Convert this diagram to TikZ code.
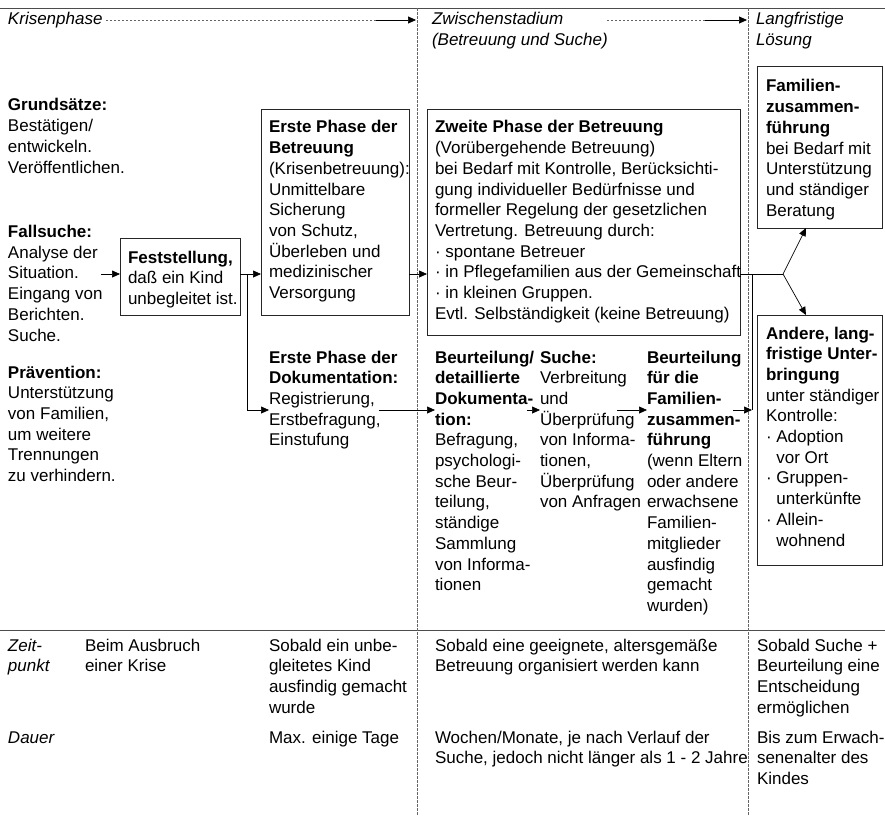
\documentclass[tikz,border=0pt]{standalone}
\usepackage{fontspec}
\setmainfont{Liberation Sans}
\usetikzlibrary{arrows.meta,calc}
\newcommand\fsz{\fontsize{17pt}{20.7pt}\selectfont}
\newcommand\bdot{\textperiodcentered\ }
\newcommand\ind{\phantom{\textperiodcentered\ }}
\begin{document}
\begin{tikzpicture}[x=1pt,y=-1pt,
  txt/.style={anchor=north west, inner sep=0pt, outer sep=0pt, align=left, font=\fsz},
  boxst/.style={draw=black!85, line width=0.8pt, anchor=north west, inner sep=0pt, outer sep=0pt},
  arr/.style={draw=black, line width=0.7pt, -{Triangle[length=8pt,width=7pt]}},
  ln/.style={draw=black, line width=0.7pt},
  sepline/.style={draw=black!60, line width=0.7pt, dash pattern=on 2.5pt off 1.5pt},
  hdash/.style={draw=black!60, line width=0.7pt, dash pattern=on 2pt off 2pt},
  rulest/.style={draw=black!70, line width=0.8pt}]
\useasboundingbox (0,0) rectangle (885,815);
\fill[white] (0,0) rectangle (885,815);

% rules and separators
\draw[rulest] (0,8) -- (885,8);
\draw[rulest] (0,630) -- (885,630);
\draw[sepline] (417,8) -- (417,815);
\draw[sepline] (748,8) -- (748,815);

% headers
\node[txt] (kris) at (8,10.5) {\strut\itshape Krisenphase};
\node[txt] (zw) at (432,10.5) {\strut\itshape Zwischenstadium\\\itshape (Betreuung und Suche)};
\node[txt] (lang) at (756,10.5) {\strut\itshape Langfristige\\\itshape Lösung};
\coordinate (h1s) at (106,20);
\coordinate (h1m) at (376,20);
\coordinate (h1e) at (416,20);
\coordinate (h2s) at (607,20);
\coordinate (h2m) at (705,20);
\coordinate (h2e) at (747,20);
\draw[hdash] (h1s) -- (h1m);
\draw[arr] (h1m) -- (h1e);
\draw[hdash] (h2s) -- (h2m);
\draw[arr] (h2m) -- (h2e);

% left column
\node[txt] (grund) at (8,96.5) {\strut\textbf{Grundsätze:}\\Bestätigen/\\entwickeln.\\Veröffentlichen.};
\node[txt] (fall) at (8,223) {\strut\textbf{Fallsuche:}\\Analyse der\\Situation.\\Eingang von\\Berichten.\\Suche.};
\node[txt] (praev) at (8,363.5) {\strut\textbf{Prävention:}\\Unterstützung\\von Familien,\\um weitere\\Trennungen\\zu verhindern.};

% boxes
\node[boxst, minimum width=120pt, minimum height=77pt] (fest) at (120,238) {};
\node[txt] (festt) at (128,248.5) {\strut\textbf{Feststellung,}\\daß ein Kind\\unbegleitet ist.};

\node[boxst, minimum width=148pt, minimum height=206pt] (erste) at (261,109) {};
\node[txt] (erstet) at (269,118.5) {\strut\textbf{Erste Phase der}\\\textbf{Betreuung}\\(Krisenbetreuung):\\Unmittelbare\\Sicherung\\von Schutz,\\Überleben und\\medizinischer\\Versorgung};

\node[boxst, minimum width=313pt, minimum height=226pt] (zweite) at (427,109) {};
\node[txt] (zweitet) at (435,118.5) {\strut\textbf{Zweite Phase der Betreuung}\\(Vorübergehende Betreuung)\\bei Bedarf mit Kontrolle, Berücksichti-\\gung individueller Bedürfnisse und\\formeller Regelung der gesetzlichen\\Vertretung. Betreuung durch:\\\bdot spontane Betreuer\\\bdot in Pflegefamilien aus der Gemeinschaft\\\bdot in kleinen Gruppen.\\Evtl. Selbständigkeit (keine Betreuung)};

\node[boxst, minimum width=125pt, minimum height=162pt] (famil) at (757,66) {};
\node[txt] (familt) at (766,77.5) {\strut\textbf{Familien-}\\\textbf{zusammen-}\\\textbf{führung}\\bei Bedarf mit\\Unterstützung\\und ständiger\\Beratung};

\node[boxst, minimum width=125pt, minimum height=250pt] (andere) at (757,315) {};
\node[txt] (anderet) at (766,324.5) {\strut\textbf{Andere, lang-}\\\textbf{fristige Unter-}\\\textbf{bringung}\\unter ständiger\\Kontrolle:\\\bdot Adoption\\\ind vor Ort\\\bdot Gruppen-\\\ind unterkünfte\\\bdot Allein-\\\ind wohnend};

% documentation row
\node[txt] (doku) at (269,348.5) {\strut\textbf{Erste Phase der}\\\textbf{Dokumentation:}\\Registrierung,\\Erstbefragung,\\Einstufung};
\node[txt] (beu1) at (435,348.5) {\strut\textbf{Beurteilung/}\\\textbf{detaillierte}\\\textbf{Dokumenta-}\\\textbf{tion:}\\Befragung,\\psychologi-\\sche Beur-\\teilung,\\ständige\\Sammlung\\von Informa-\\tionen};
\node[txt] (suche) at (540,348.5) {\strut\textbf{Suche:}\\Verbreitung\\und\\Überprüfung\\von Informa-\\tionen,\\Überprüfung\\von Anfragen};
\node[txt] (beu2) at (647,348.5) {\strut\textbf{Beurteilung}\\\textbf{für die}\\\textbf{Familien-}\\\textbf{zusammen-}\\\textbf{führung}\\(wenn Eltern\\oder andere\\erwachsene\\Familien-\\mitglieder\\ausfindig\\gemacht\\wurden)};

% bottom rows
\node[txt] (zeit) at (8,636.5) {\strut\itshape Zeit-\\\itshape punkt};
\node[txt] (z1) at (85,636.5) {\strut Beim Ausbruch\\einer Krise};
\node[txt] (z2) at (269,636.5) {\strut Sobald ein unbe-\\gleitetes Kind\\ausfindig gemacht\\wurde};
\node[txt] (z3) at (435,636.5) {\strut Sobald eine geeignete, altersgemäße\\Betreuung organisiert werden kann};
\node[txt] (z4) at (757,636.5) {\strut Sobald Suche +\\Beurteilung eine\\Entscheidung\\ermöglichen};
\node[txt] (dauer) at (8,728.5) {\strut\itshape Dauer};
\node[txt] (d2) at (269,728.5) {\strut Max. einige Tage};
\node[txt] (d3) at (435,728.5) {\strut Wochen/Monate, je nach Verlauf der\\Suche, jedoch nicht länger als 1 - 2 Jahre};
\node[txt] (d4) at (757,728.5) {\strut Bis zum Erwach-\\senenalter des\\Kindes};

% connectors upper row
\coordinate (p1) at (101,274);
\draw[arr] (p1) -- (p1 -| fest.west);
\draw[arr] (fest.east |- p1) -- (p1 -| erste.west);
\coordinate (b1) at (247,274);
\coordinate (b2) at (247,410);
\draw[ln] (b1) -- (b2);
\draw[arr] (b2) -- (b2 -| doku.west);
\draw[arr] (erste.east |- p1) -- (p1 -| zweite.west);
\coordinate (br) at (783,274);
\draw[ln] (zweite.east |- br) -- (br);
\draw[arr] (br) -- ([xshift=49pt]famil.south west);
\draw[arr] (br) -- ([xshift=49pt]andere.north west);

% connectors lower row
\coordinate (v1) at (752,274);
\coordinate (v2) at (752,410);
\draw[ln] (v1) -- (v2);
\coordinate (r1) at (379,410);
\draw[arr] (r1) -- (r1 -| beu1.west);
\coordinate (r2) at (527,410);
\draw[arr] (r2) -- (r2 -| suche.west);
\coordinate (r3) at (617,410);
\draw[arr] (r3) -- (r3 -| beu2.west);
\coordinate (r4) at (733,410);
\draw[arr] (r4) -- (v2);
\end{tikzpicture}
\end{document}
